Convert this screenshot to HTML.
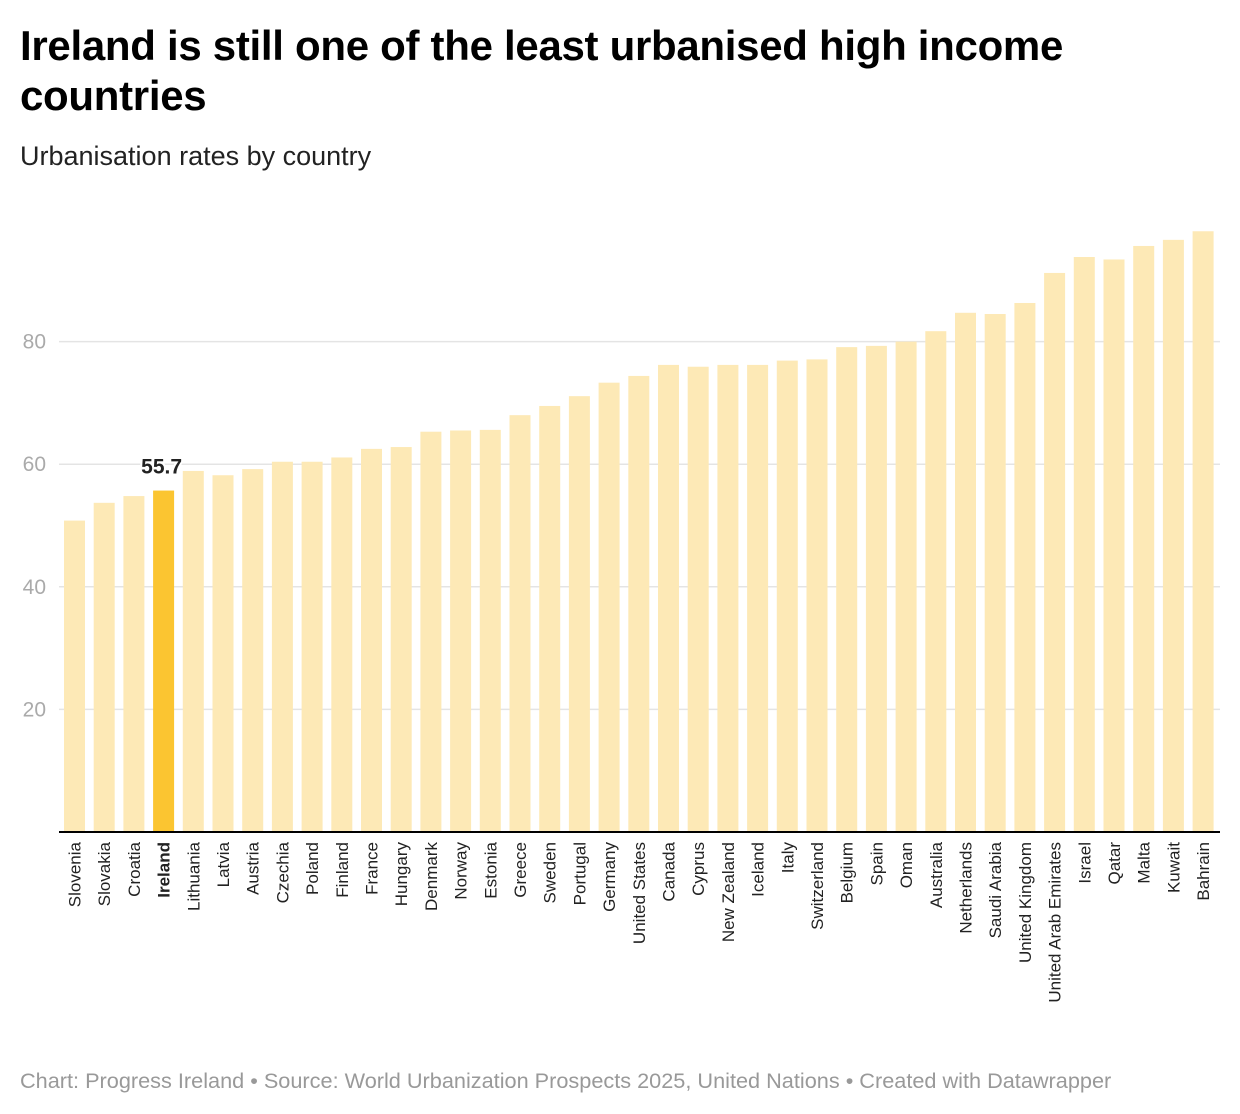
<!DOCTYPE html>
<html><head><meta charset="utf-8"><style>
body{margin:0;background:#fff;font-family:"Liberation Sans",sans-serif;}
#wrap{position:relative;width:1240px;height:1114px;overflow:hidden;}
h1{position:absolute;left:20px;top:21px;margin:0;font-size:42px;line-height:50px;font-weight:bold;color:#000;width:1080px;letter-spacing:-0.3px}
.sub{position:absolute;left:20px;top:141px;font-size:27px;line-height:30px;color:#222}
.foot{position:absolute;left:20px;top:1068px;font-size:21.7px;color:#999;white-space:nowrap}
</style></head><body>
<div id="wrap">
<h1>Ireland is still one of the least urbanised high income countries</h1>
<div class="sub">Urbanisation rates by country</div>
<svg id="svg" width="1240" height="1114" style="position:absolute;left:0;top:0"></svg>
<div class="foot">Chart: Progress Ireland • Source: World Urbanization Prospects 2025, United Nations • Created with Datawrapper</div>
</div>
<script>
const categories=["Slovenia","Slovakia","Croatia","Ireland","Lithuania","Latvia","Austria","Czechia","Poland","Finland","France","Hungary","Denmark","Norway","Estonia","Greece","Sweden","Portugal","Germany","United States","Canada","Cyprus","New Zealand","Iceland","Italy","Switzerland","Belgium","Spain","Oman","Australia","Netherlands","Saudi Arabia","United Kingdom","United Arab Emirates","Israel","Qatar","Malta","Kuwait","Bahrain"];
const values=[50.8,53.7,54.8,55.7,58.9,58.2,59.2,60.4,60.4,61.1,62.5,62.8,65.3,65.5,65.6,68.0,69.5,71.1,73.3,74.4,76.2,75.9,76.2,76.2,76.9,77.1,79.1,79.3,80.0,81.7,84.7,84.5,86.3,91.2,93.8,93.4,95.6,96.6,98.0];
const yTicks=[20,40,60,80];
const highlight="Ireland";
const NS="http://www.w3.org/2000/svg",svg=document.getElementById('svg');
const y0=832,k=6.13,x0=64,step=29.7,bw=21;
const y=v=>y0-v*k, x=i=>x0+i*step;
function mk(t,a){const e=document.createElementNS(NS,t);for(const n in a)e.setAttribute(n,a[n]);svg.appendChild(e);return e;}
yTicks.forEach(t=>{
 const g=mk('line',{x1:59,x2:1220,y1:y(t),y2:y(t),stroke:'#e4e4e4','stroke-width':1.5});
 
 
 const l=mk('text',{x:46,y:y(t)+7,'text-anchor':'end','font-size':21,fill:'#aaa','font-family':'Liberation Sans'});
 l.textContent=t;
 
 
});
categories.forEach((c,i)=>{
 const hi=c===highlight;
 const r=mk('rect',{x:x(i),y:y(values[i]),width:bw,height:values[i]*k,fill:hi?'#fbc531':'#fde9b6'});
 
 
 const cx=x(i)+bw/2+6;
 const t=mk('text',{x:0,y:0,'text-anchor':'end','font-size':17,fill:'#222','font-weight':hi?'bold':'normal',transform:`translate(${cx},842) rotate(-90)`,'font-family':'Liberation Sans'});
 t.textContent=c;
 
 
 if(hi){
  const v=mk('text',{x:x(i)+bw/2-2,y:y(values[i])-17,'text-anchor':'middle','font-size':21,'font-weight':'bold',fill:'#222',stroke:'#fff','stroke-width':4,'paint-order':'stroke','font-family':'Liberation Sans'});
  v.textContent=values[i].toFixed(1);
  
  
 }
});
const b=mk('line',{x1:59,x2:1220,y1:y0,y2:y0,stroke:'#000','stroke-width':2});


</script>
</body></html>
